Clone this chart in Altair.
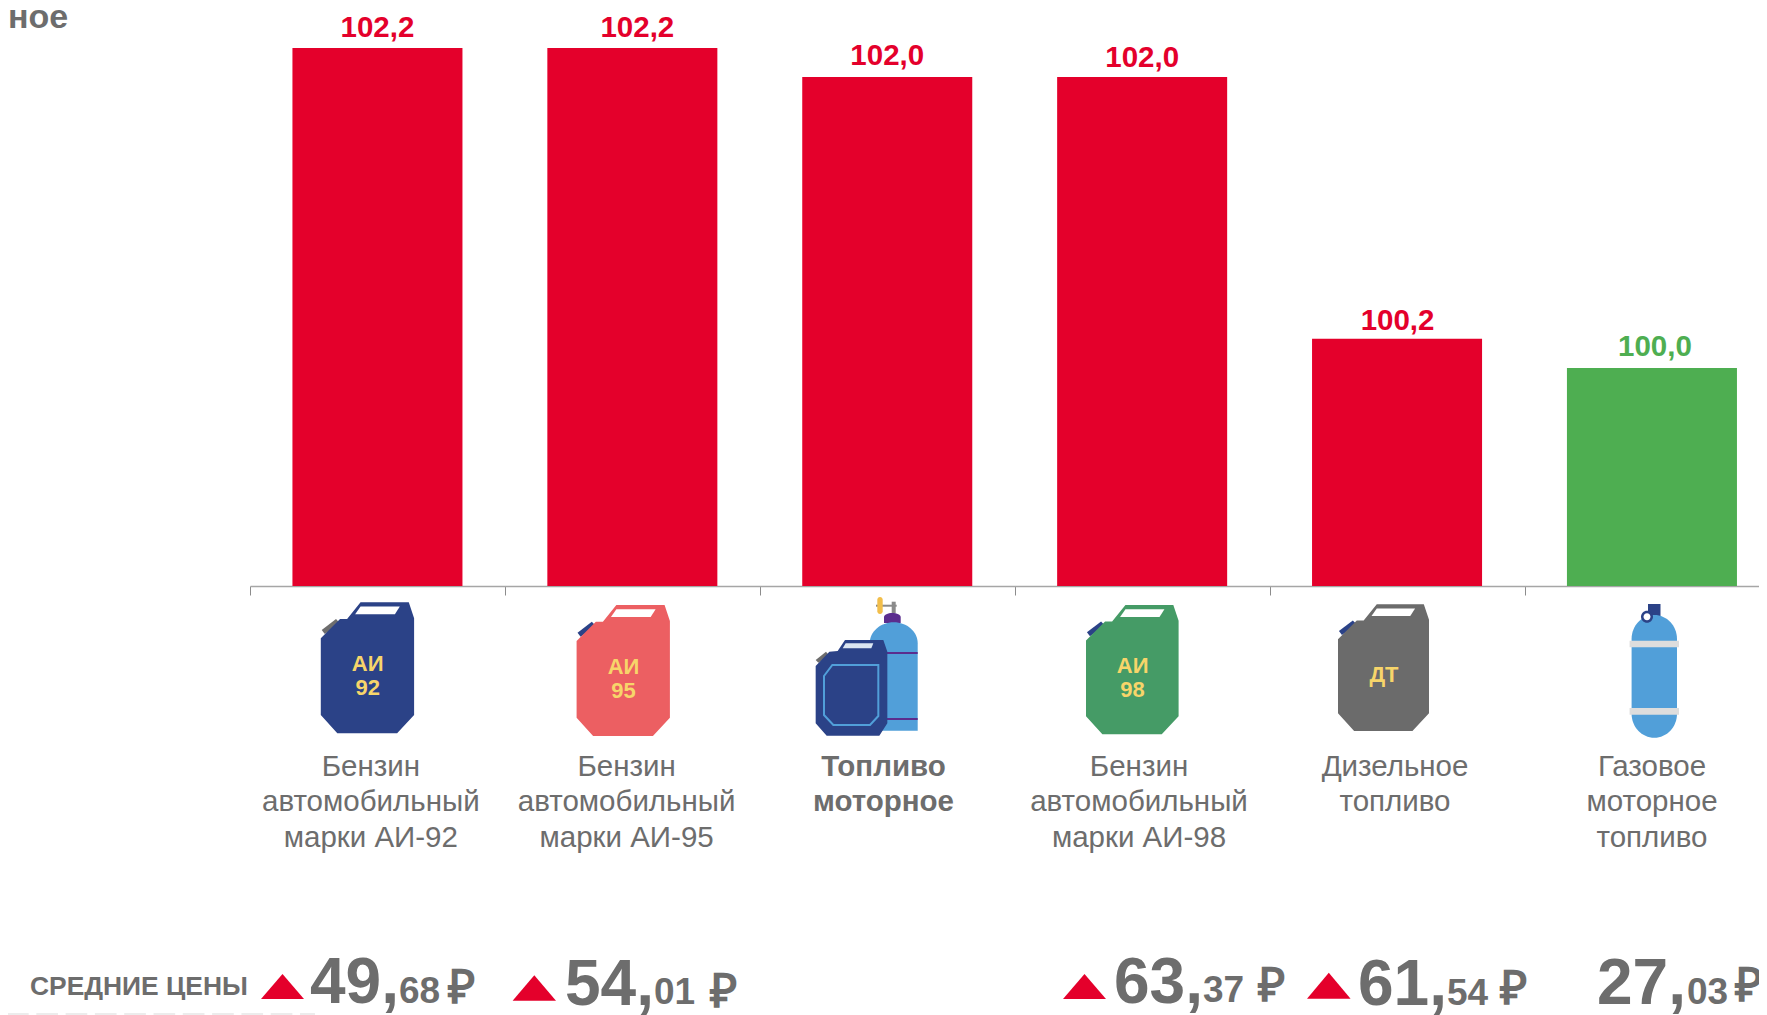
import altair as alt
import pandas as pd

# ---- data ----
CATEGORIES = ["АИ-92", "АИ-95", "Топливо", "АИ-98", "ДТ", "Газ"]
VALUES = [102.2, 102.2, 102.0, 102.0, 100.2, 100.0]
VALUE_LABELS = ["102,2", "102,2", "102,0", "102,0", "100,2", "100,0"]
LABEL_LINES = [
    ["Бензин", "автомобильный", "марки АИ-92"],
    ["Бензин", "автомобильный", "марки АИ-95"],
    ["Топливо", "моторное"],
    ["Бензин", "автомобильный", "марки АИ-98"],
    ["Дизельное", "топливо"],
    ["Газовое", "моторное", "топливо"],
]
PRICE_INT = ["49,", "54,", "63,", "61,", "27,"]
PRICE_DEC = ["68", "01", "37", "54", "03"]
ROW_TITLE = "СРЕДНИЕ ЦЕНЫ"
CORNER = "ное"

# ---- layout and style ----
RED, GREEN, GRAY = "#E4002B", "#4EAE51", "#6D6D6D"
NAVY, BLUE, YEL, PURPLE = "#2B4287", "#519FD9", "#F7D56A", "#5B2D8E"
FONT = "Liberation Sans"
P = lambda v: v - 8          # page pixel to chart pixel
STEP = 254.9
X0 = 250.0
CENTER = [X0 + STEP * (i + .5) for i in range(6)]
BAR_COL = [RED, RED, RED, RED, RED, GREEN]
VAL_DX = [0, 5, 0, 0, 0.5, 3]
VAL_DY = [-11, -11, -12, -10, -9, -12]
LABEL_CX = [370.8, 626.6, 883.5, 1139, 1395, 1652]
LINE_Y = [776, 811, 847]
INT_X = [310, 565, 1114, 1358, 1597]
INT_Y = [1002.5, 1005, 1002.5, 1005, 1004]
DEC_X = [399, 654, 1203, 1447, 1687]
DEC_Y = [1002.5, 1004, 1001.5, 1005, 1004]
RUB_X = [448, 710, 1258, 1500, 1735]
RUB_Y = [1002.5, 1006.5, 1000.5, 1004, 1000.5]
TRI = [(261, 304, 974, 999), (512.6, 556, 975.3, 1000.7),
       (1063, 1106, 974, 999), (1307, 1350.6, 972.7, 998.7)]

xs = alt.Scale(domain=CATEGORIES, range=[P(X0), P(X0 + 6 * STEP)],
               paddingInner=0.333, paddingOuter=0.1665)
ys = alt.Scale(domain=[98.5, 102.2], range=[578, 40])
xaxis = alt.Axis(title=None, labels=False, tickOffset=-STEP / 2, tickSize=9,
                 domainColor="#A6A6A6", tickColor="#8C8C8C", domainWidth=1.5,
                 tickWidth=1, grid=False)
X = alt.X("cat:N", scale=xs, axis=xaxis, sort=None)
Y = alt.Y("val:Q", scale=ys, axis=None)

df = pd.DataFrame({"cat": CATEGORIES, "val": VALUES, "col": BAR_COL})
one = pd.DataFrame({"a": [0]})
layers = []

layers.append(
    alt.Chart(df).mark_bar().encode(
        x=X, y=Y, y2=alt.datum(98.5), color=alt.Color("col:N", scale=None))
)

# value labels
for i, c in enumerate(CATEGORIES):
    layers.append(
        alt.Chart(df[df.cat == c]).mark_text(
            font=FONT, fontSize=29.5, fontWeight="bold", color=BAR_COL[i],
            baseline="alphabetic", dx=VAL_DX[i], dy=VAL_DY[i]
        ).encode(x=X, y=Y, text=alt.value(VALUE_LABELS[i]))
    )

# category labels
for i, c in enumerate(CATEGORIES):
    for j, line in enumerate(LABEL_LINES[i]):
        layers.append(
            alt.Chart(df[df.cat == c]).mark_text(
                font=FONT, fontSize=29.5, color=GRAY, baseline="alphabetic",
                fontWeight="bold" if i == 2 else "normal",
                dx=LABEL_CX[i] - CENTER[i]
            ).encode(x=X, y=alt.value(P(LINE_Y[j])), text=alt.value(line))
        )


def poly(pts):
    return "M" + "L".join(f"{x:.2f},{y:.2f}" for x, y in pts) + "Z"


ICON_Y = 670.0


def icon(i, path, fill=None, stroke=None, sw=1):
    mk = dict(shape=path, size=4, opacity=1)
    if fill:
        mk.update(filled=True, fill=fill, strokeWidth=0)
    else:
        mk.update(filled=False, stroke=stroke, strokeWidth=sw)
    layers.append(
        alt.Chart(df[df.cat == CATEGORIES[i]]).mark_point(**mk).encode(
            x=X, y=alt.value(P(ICON_Y)))
    )


def rel(i, pts):
    return [(x - CENTER[i], y - ICON_Y) for x, y in pts]


BODY = [(.426, 0), (.943, 0), (1, .122), (1, .860), (.818, 1), (.177, 1),
        (0, .860), (0, .275), (.206, .127), (.282, .127)]
HOLE = [(.426, .033), (.847, .033), (.794, .092), (.368, .092)]
CAP = [(.01, .211), (.163, .127), (.206, .160), (.043, .242)]


def can(i, x0, x1, y0, y1, col, capcol, holecol="#FFFFFF"):
    m = lambda pts: rel(i, [(x0 + u * (x1 - x0), y0 + v * (y1 - y0)) for u, v in pts])
    icon(i, poly(m(CAP)), fill=capcol)
    icon(i, poly(m(BODY)), fill=col)
    icon(i, poly(m(HOLE)), fill=holecol)


def can_text(txt, cx, base, size=22):
    layers.append(
        alt.Chart(one).mark_text(font=FONT, fontSize=size, fontWeight="bold",
                                 color=YEL, baseline="alphabetic").encode(
            x=alt.value(P(cx)), y=alt.value(P(base)), text=alt.value(txt))
    )


def capsule(i, x0, x1, y0, y1, r_y, bottom_round=True):
    k = .5523
    cx = (x0 + x1) / 2
    rx = (x1 - x0) / 2
    a, b = CENTER[i], ICON_Y
    s = f"M{x0-a:.2f},{y0+r_y-b:.2f}"
    s += f"C{x0-a:.2f},{y0+r_y*(1-k)-b:.2f} {cx-rx*k-a:.2f},{y0-b:.2f} {cx-a:.2f},{y0-b:.2f}"
    s += f"C{cx+rx*k-a:.2f},{y0-b:.2f} {x1-a:.2f},{y0+r_y*(1-k)-b:.2f} {x1-a:.2f},{y0+r_y-b:.2f}"
    if bottom_round:
        s += f"L{x1-a:.2f},{y1-r_y-b:.2f}"
        s += f"C{x1-a:.2f},{y1-r_y*(1-k)-b:.2f} {cx+rx*k-a:.2f},{y1-b:.2f} {cx-a:.2f},{y1-b:.2f}"
        s += f"C{cx-rx*k-a:.2f},{y1-b:.2f} {x0-a:.2f},{y1-r_y*(1-k)-b:.2f} {x0-a:.2f},{y1-r_y-b:.2f}Z"
    else:
        s += f"L{x1-a:.2f},{y1-b:.2f}L{x0-a:.2f},{y1-b:.2f}Z"
    return s


def rect(i, x0, x1, y0, y1):
    return poly(rel(i, [(x0, y0), (x1, y0), (x1, y1), (x0, y1)]))


# icon 1, 2
can(0, 320.8, 414.1, 602.3, 733.3, NAVY, GRAY)
can_text("АИ", 367.7, 671)
can_text("92", 367.7, 695)
can(1, 576.6, 669.9, 605, 736, "#EC5F62", NAVY)
can_text("АИ", 623.5, 674)
can_text("95", 623.5, 698)

# icon 3: cylinder behind a can
i = 2
icon(i, rect(i, 876, 896.7, 604.7, 606.7), fill="#8A8A8A")
icon(i, rect(i, 891.7, 895.7, 601.7, 613), fill="#8A8A8A")
icon(i, capsule(i, 877.3, 882.7, 597, 614, 2.7), fill="#F2BE4A")
icon(i, capsule(i, 884, 900.7, 613, 623, 4, False), fill=PURPLE)
icon(i, capsule(i, 869.7, 917.7, 622.3, 730.7, 21, False), fill=BLUE)
icon(i, rect(i, 887, 917.7, 652, 654), fill=PURPLE)
icon(i, rect(i, 887, 917.7, 718, 720), fill=PURPLE)
Z = lambda pts: rel(i, [(800 + x / 3, 590 + y / 3) for x, y in pts])
icon(i, poly(Z([(47, 210), (78, 185), (88, 197), (55, 218)])), fill=GRAY)
icon(i, poly(Z([(135, 150), (250, 150), (262, 185), (262, 400), (238, 437), (80, 437),
                (47, 400), (47, 228), (88, 185), (113, 183)])), fill=NAVY)
icon(i, poly(Z([(137, 160), (220, 160), (214, 175), (128, 175)])), fill="#DCE6F2")
icon(i, poly(Z([(97, 225), (235, 225), (235, 378), (210, 405), (100, 405), (72, 375), (72, 258)])),
     stroke=BLUE, sw=2)

# icon 4, 5
can(3, 1086, 1178.6, 605, 734.3, "#459B66", NAVY)
can_text("АИ", 1132.6, 673)
can_text("98", 1132.6, 697)
can(4, 1338, 1429, 604.3, 731, "#6B6B6B", NAVY)
can_text("ДТ", 1384, 682)

# icon 6: gas cylinder
i = 5
icon(i, rect(i, 1648, 1660.5, 604, 616), fill=NAVY)
icon(i, capsule(i, 1631.6, 1677, 615, 737.7, 24), fill=BLUE)
icon(i, rect(i, 1629.6, 1679, 640.7, 647.3), fill="#DDDDDD")
icon(i, rect(i, 1629.6, 1679, 708, 714.7), fill="#DDDDDD")
icon(i, capsule(i, 1641, 1653, 610.7, 622.7, 6), fill=NAVY)
icon(i, capsule(i, 1643.5, 1650.5, 613.2, 620.2, 3.5), fill="#FFFFFF")

# price row
layers.append(
    alt.Chart(one).mark_text(font=FONT, fontSize=26.4, fontWeight="bold", color=GRAY,
                             baseline="alphabetic", align="left").encode(
        x=alt.value(P(30)), y=alt.value(P(995)), text=alt.value(ROW_TITLE))
)
TRI_CAT = [0, 1, 3, 4]
for k, (x0, x1, y0, y1) in zip(TRI_CAT, TRI):
    a, b = CENTER[k], ICON_Y
    icon(k, poly([(x0 - a, y1 - b), ((x0 + x1) / 2 - a, y0 - b), (x1 - a, y1 - b)]), fill=RED)

for k in range(5):
    for txt, xx, yy, size in [(PRICE_INT[k], INT_X[k], INT_Y[k], 64),
                              (PRICE_DEC[k], DEC_X[k], DEC_Y[k], 37),
                              ("₽", RUB_X[k], RUB_Y[k], 47)]:
        layers.append(
            alt.Chart(one).mark_text(font=FONT, fontSize=size, fontWeight="bold", color=GRAY,
                                     baseline="alphabetic", align="left").encode(
                x=alt.value(P(xx)), y=alt.value(P(yy)), text=alt.value(txt))
        )

# word at top left
layers.append(
    alt.Chart(one).mark_text(font=FONT, fontSize=34, fontWeight="bold", color=GRAY,
                             baseline="alphabetic", align="left").encode(
        x=alt.value(0), y=alt.value(P(28)), text=alt.value(CORNER))
)

# faint dashed rule on the bottom edge
layers.append(
    alt.Chart(one).mark_rule(color="#E6E6E6", strokeWidth=1.5, strokeDash=[21.7, 7.6]).encode(
        x=alt.value(P(7)), x2=alt.value(P(315)), y=alt.value(P(1014)))
)

chart = alt.layer(*layers).properties(
    width=1751, height=578,
    padding={"left": 0, "top": 0, "right": 0, "bottom": 429},
    autosize=alt.AutoSizeParams(type="none"),
).configure_view(stroke=None)

chart.save("out.html", embed_options={"renderer": "svg", "actions": False})
